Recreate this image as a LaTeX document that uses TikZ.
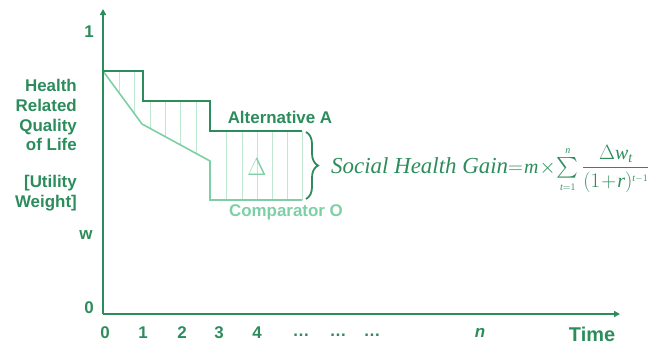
\documentclass[tikz,border=0pt]{standalone}
\usepackage{amsmath}
\usepackage{fontspec}
\setmainfont{Liberation Serif}
\newfontfamily\labfont{Liberation Sans}
\usetikzlibrary{arrows.meta,decorations.pathreplacing}
\definecolor{dkg}{RGB}{44,140,92}
\definecolor{ltg}{RGB}{125,208,165}
\definecolor{htg}{RGB}{190,232,208}
\tikzset{
  axisline/.style={draw=dkg, line width=1.8bp, -{Triangle[length=6bp,width=6bp]}},
  altline/.style={draw=dkg, line width=2bp, line join=miter},
  compline/.style={draw=ltg, line width=1.6bp},
  hatchline/.style={draw=htg, line width=0.9bp},
  lab/.style={font=\labfont\bfseries\fontsize{17}{20}\selectfont, text=dkg, inner sep=0pt},
  biglab/.style={font=\labfont\bfseries\fontsize{20}{22}\selectfont, text=dkg, inner sep=0pt},
  complab/.style={font=\labfont\bfseries\fontsize{17}{20}\selectfont, text=ltg, inner sep=0pt},
}
\newcommand{\vi}[1]{\text{\itshape #1}}
\begin{document}
\begin{tikzpicture}[x=1bp,y=-1bp]
\useasboundingbox (0,0) rectangle (656,346);
% hatch lines
\foreach \xx in {119,134}{
  \pgfmathsetmacro{\yy}{71+(\xx-103)*53/39}
  \draw[hatchline] (\xx,71) -- (\xx,\yy);
}
\foreach \xx in {150,165,180,196}{
  \pgfmathsetmacro{\yy}{124+(\xx-142)*37/68}
  \draw[hatchline] (\xx,101) -- (\xx,\yy);
}
\foreach \xx in {226,242,257,272,287,302}{
  \draw[hatchline] (\xx,131) -- (\xx,200);
}
% comparator O
\draw[compline] (103,71) -- (142,124) -- (210,161) -- (210,200) -- (302,200);
% alternative A
\draw[altline] (103,71) -- (143,71) -- (143,101) -- (210,101) -- (210,131) -- (302,131);
% axes
\coordinate (origin) at (103,314);
\coordinate (ytop) at (103,9);
\coordinate (xend) at (620,314);
\draw[axisline] (origin) -- (ytop);
\draw[axisline] (origin) -- (xend);
% y labels
\node[lab] (one) at (89,32) {1};
\node[lab] (zero) at (89,308) {0};
\node[lab] (wlab) at (86,235) {w};
\node[lab, align=right, anchor=east] (hrql) at (77,115) {Health\\Related\\Quality\\of Life};
\node[lab, align=right, anchor=east] (uw) at (77,193) {[Utility\\Weight]};
% x labels
\node[lab] (t0) at (105,333) {0};
\node[lab] (t1) at (143,333) {1};
\node[lab] (t2) at (182,333) {2};
\node[lab] (t3) at (219,333) {3};
\node[lab] (t4) at (257,333) {4};
\node[lab] (d1) at (301,335) {…};
\node[lab] (d2) at (338,335) {…};
\node[lab] (d3) at (372,335) {…};
\node[lab, font=\labfont\bfseries\itshape\fontsize{17}{20}\selectfont] (tn) at (480,333) {n};
\node[biglab] (time) at (592,334) {Time};
% curve labels
\node[lab] (alta) at (280,117) {Alternative A};
\node[complab] (compo) at (286,212) {Comparator O};
\node[inner sep=0pt, text=ltg, font=\fontsize{23}{23}\selectfont] (delta) at (257,167) {$\Delta$};
% brace
\coordinate (bt) at (306,132);
\coordinate (bb) at (306,199);
\draw[dkg, line width=1.8bp, decorate, decoration={brace, amplitude=12bp}] (bt) -- (bb);
% formula
\node[anchor=base west, inner sep=0pt, text=dkg, font=\fontsize{23}{23}\selectfont] (formula) at (331,173)
 {\itshape Social Health Gain\upshape\fontsize{20}{20}\selectfont\thickmuskip=1mu\medmuskip=1mu$=\vi{m}\times\sum\limits_{\scriptscriptstyle\vi{t}=1}^{\scriptscriptstyle\vi{n}}\dfrac{\Delta\vi{w}_{\vi{t}}}{(1+\vi{r})^{\scriptscriptstyle\vi{t}-1}}$};
\end{tikzpicture}
\end{document}
